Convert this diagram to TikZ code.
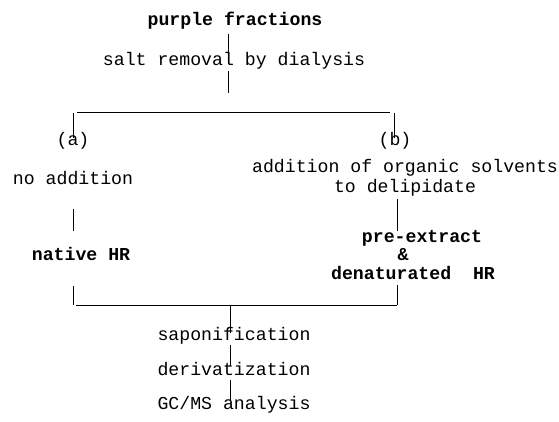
\documentclass[tikz,border=0pt]{standalone}
\usepackage{fontspec}
\setmonofont{Liberation Mono}
\usetikzlibrary{positioning,calc}
\tikzset{
  txt/.style={font=\ttfamily\fontsize{18.2}{20}\selectfont, inner sep=1pt,
              text height=0.62em, text depth=0.2em, align=center},
  bld/.style={txt, font=\ttfamily\bfseries\fontsize{18.2}{20}\selectfont},
  ln/.style={draw=black, line width=0.9pt},
  gap/.style={shorten <=#1, shorten >=#1},
}

\begin{document}
\begin{tikzpicture}[x=1pt, y=-1pt]
\useasboundingbox[fill=white] (0,0) rectangle (559,421);

% columns of the vertical strokes
\coordinate (colM) at (228,0);
\coordinate (colA) at (73,0);
\coordinate (colB) at (394,0);
\coordinate (colC) at (397,0);
\coordinate (colD) at (230,0);

% =====================================================================
\node[bld] (purple) at (235,23) {purple fractions};
\node[txt] (salt)   at (234,63) {salt removal by dialysis};

\draw[ln, shorten <=6pt] (purple.south -| colM) -- (salt.north -| colM);
\coordinate (fork) at (228,93);
\draw[ln, shorten <=3pt] (salt.south -| colM) -- (fork);

% the split into two routes
\coordinate (topL) at (77,112);
\coordinate (topR) at (390,112);
\draw[ln] (topL) -- (topR);

\node[txt] (ltag) at (73,143)  {(a)};
\node[txt] (rtag) at (395,143) {(b)};
\draw[ln] (73,113) -- (ltag.north -| colA);
\draw[ln] (394,113) -- (rtag.north -| colB);

% route (a)
\node[txt] (noadd)  at (73,182) {no addition};
\node[bld] (native) at (81,258) {native HR};
\draw[ln, gap=22pt] (noadd.south -| colA) -- (native.north -| colA);

% route (b)
\node[txt] (orgadd) at (405,190) {addition of organic solvents\\to delipidate};
\node[bld] (pre)    at (422,240) {pre-extract};
\node[bld] (amp)    at (403,258) {\&};
\node[bld] (denat)  at (413,277) {denaturated\ \ HR};
\draw[ln, gap=4pt] (orgadd.south -| colC) -- (pre.north -| colC);

% joining again
\coordinate (botL) at (73,305);
\coordinate (botR) at (397,305);
\draw[ln, shorten <=23pt] (native.south -| colA) -- (botL);
\draw[ln, shorten <=3pt] (denat.south -| colC) -- (botR);
\draw[ln] ($(botL)+(3,0)$) -- (botR);

% common tail
\node[txt] (sapo)  at (234,338) {saponification};
\node[txt] (deriv) at (234,373) {derivatization};
\node[txt] (gcms)  at (234,407) {GC/MS analysis};
\draw[ln] (botL -| colD) -- (sapo.north -| colD);
\foreach \a/\b in {sapo/deriv, deriv/gcms}
  \draw[ln, gap=2pt] (\a.south -| colD) -- (\b.north -| colD);

\end{tikzpicture}
\end{document}
